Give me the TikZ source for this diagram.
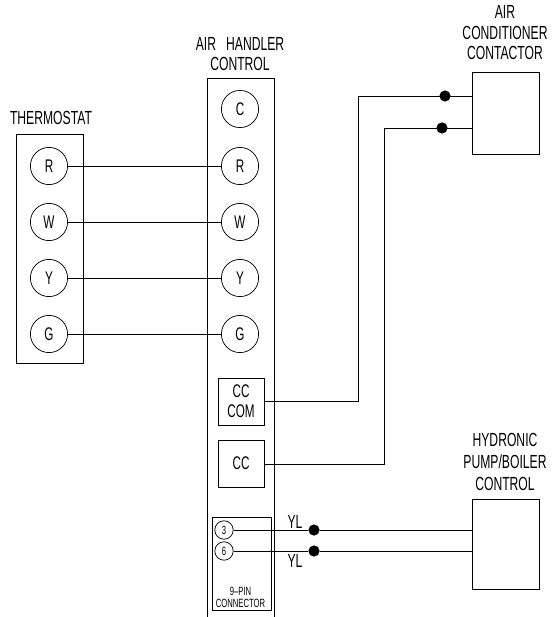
\documentclass[tikz,border=0pt]{standalone}
\usepackage{fontspec}
\setmainfont[FakeStretch=0.64]{Liberation Sans}
\tikzset{
  terminal/.style={draw, circle, line width=0.5pt, inner sep=0pt, minimum size=0.93cm, font=\fontsize{13}{15}\selectfont},
  pin/.style={draw, circle, line width=0.5pt, inner sep=0pt, minimum size=0.46cm, font=\fontsize{8.5}{9}\selectfont},
  panel/.style={draw, line width=0.6pt, inner sep=0pt},
  title/.style={align=center, font=\fontsize{13.5}{14.6}\selectfont},
  wire/.style={line width=0.6pt},
  splice/.style={fill, circle, inner sep=0pt, minimum size=0.28cm}
}
\begin{document}
\begin{tikzpicture}[x=0.025cm, y=-0.025cm]
        \useasboundingbox (0, 0) rectangle (553, 617);

        % boxes
        \node[panel, minimum width=1.675cm, minimum height=5.725cm] (thermostat) at (49.5, 248.5) {};
        \coordinate (handlerTL) at (207, 78);
        \coordinate (handlerTR) at (274, 78);
        \coordinate (handlerBL) at (207, 617);
        \coordinate (handlerBR) at (274, 617);
        \draw[wire] (handlerBL) -- (handlerTL) -- (handlerTR) -- (handlerBR);
        \node[panel, minimum width=1.675cm, minimum height=2.05cm] (contactor) at (505.5, 113) {};
        \node[panel, minimum width=1.675cm, minimum height=2.25cm] (hydronic) at (505.5, 544) {};
        \node[panel, align=center, minimum width=1.15cm, minimum height=1.175cm, font=\fontsize{13}{14.2}\selectfont] (cccom) at (241, 401.5) {CC\\COM};
        \node[panel, minimum width=1.15cm, minimum height=1.175cm, font=\fontsize{13}{15}\selectfont] (cc) at (241, 463.5) {CC};
        \node[panel, minimum width=1.475cm, minimum height=2.325cm] (connector) at (241.5, 563.5) {};

        % terminals
        \node[terminal] (handlerC) at (240, 109) {C};
        \foreach \name/\y in {R/166, W/222, Y/278, G/334}
        {
                \node[terminal] (therm\name) at (49, \y) {\name};
                \node[terminal] (handler\name) at (240, \y) {\name};
                \draw[wire] (therm\name) -- (handler\name);
        }

        % contactor wires
        \coordinate (contactorA) at (472, 96);
        \coordinate (contactorB) at (472, 128);
        \coordinate (hydronicA) at (472, 530);
        \coordinate (hydronicB) at (472, 551);
        \draw[wire] (cccom.east |- 0, 401) -| (358, 96) -- (contactorA);
        \draw[wire] (cc.east |- 0, 464) -| (384, 128) -- (contactorB);
        \node[splice] (spliceA) at (445, 96) {};
        \node[splice] (spliceB) at (442, 128) {};

        % 9-pin connector
        \node[pin] (pinThree) at (224, 530) {3};
        \node[pin] (pinSix) at (224, 551) {6};
        \node[splice] (spliceC) at (314, 530) {};
        \node[splice] (spliceD) at (314, 551) {};
        \draw[wire] (pinThree) -- (spliceC) -- (hydronicA);
        \draw[wire] (pinSix) -- (spliceD) -- (hydronicB);

        \node[align=center, font=\fontsize{8.5}{8.6}\selectfont] (pinLabel) at (240.5, 597) {9--PIN\\CONNECTOR};
        \node[title] (yellowA) at (295, 522) {YL};
        \node[title] (yellowB) at (295, 561) {YL};
        \node[title] (thermLabel) at (51, 118) {THERMOSTAT};
        \node[title] (handlerLabel) at (240, 54) {AIR\ \ \ HANDLER\\CONTROL};
        \node[title] (contactorLabel) at (505, 33) {AIR\\CONDITIONER\\CONTACTOR};
        \node[title, font=\fontsize{13.5}{15.4}\selectfont] (hydronicLabel) at (505, 462) {HYDRONIC\\PUMP/BOILER\\CONTROL};

\end{tikzpicture}
\end{document}
